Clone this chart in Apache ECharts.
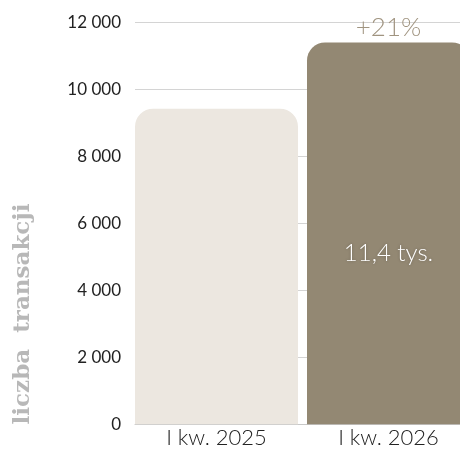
<!DOCTYPE html>
<html>
<head>
<meta charset="utf-8">
<script src="https://cdn.jsdelivr.net/npm/echarts@6/dist/echarts.min.js"></script>
<style>
  html, body { margin: 0; padding: 0; background: #fff; }
  #chart { width: 460px; height: 450px; }
</style>
</head>
<body>
<div id="chart"></div>
<script>
  // dane
  var categories = ['I kw. 2025', 'I kw. 2026'];
  var transactions = [9420, 11400];
  var barColors = ['#ECE7E0', '#938873'];
  var valueLabels = ['', '11,4 tys.'];
  var growthLabel = '+21%';
  var yMax = 12000;
  var yStep = 2000;

  var font = 'Lato, "Noto Sans", sans-serif';

  function fmt(v) {
    return String(v).replace(/\B(?=(\d{3})+(?!\d))/g, ' ');
  }

  var chart = echarts.init(document.getElementById('chart'));

  var option = {
    animation: false,
    grid: [
      { left: 135, right: 0, top: 22.3, bottom: 25.7, outerBoundsMode: 'none' },
      { left: 130.5, width: 344, top: 22.3, bottom: 25.7, outerBoundsMode: 'none' }
    ],
    xAxis: [
      {
        type: 'category', gridIndex: 0, data: categories,
        axisLine: { show: true, lineStyle: { color: '#c8c8c8', width: 1 } },
        axisTick: { show: false },
        axisLabel: { show: false }
      },
      {
        type: 'category', gridIndex: 1, data: categories,
        axisLine: { show: false },
        axisTick: { show: false },
        axisLabel: { color: '#222', fontSize: 22, fontFamily: font, fontWeight: 300, margin: 3 }
      }
    ],
    yAxis: [
      {
        type: 'value', gridIndex: 0, min: 0, max: yMax, interval: yStep,
        axisLine: { show: false },
        axisTick: { show: false },
        splitLine: { lineStyle: { color: '#d4d4d4', width: 1 } },
        axisLabel: { color: '#222', fontSize: 17, fontFamily: font, margin: 14, formatter: fmt }
      },
      {
        type: 'value', gridIndex: 1, min: 0, max: yMax, interval: yStep,
        show: false
      }
    ],
    graphic: [
      {
        type: 'text',
        x: 23, y: 314, rotation: Math.PI / 2,
        style: {
          text: 'liczba  transakcji',
          fill: '#b8b8b8',
          fontSize: 23,
          fontWeight: 'bold',
          fontFamily: '"DejaVu Serif", serif',
          textAlign: 'center',
          textVerticalAlign: 'middle'
        }
      }
    ],
    series: [
      {
        type: 'bar',
        xAxisIndex: 1, yAxisIndex: 1,
        barWidth: 163,
        z: 3,
        data: transactions.map(function (v, i) {
          return {
            value: v,
            itemStyle: { color: barColors[i], borderRadius: [18, 18, 0, 0] },
            label: {
              show: valueLabels[i] !== '',
              position: 'inside',
              offset: [0, 20],
              formatter: valueLabels[i],
              color: '#fff',
              fontSize: 24,
              fontFamily: font,
              fontWeight: 300,
              textShadowColor: 'rgba(0,0,0,0.25)',
              textShadowBlur: 3
            }
          };
        })
      },
      {
        type: 'bar',
        xAxisIndex: 1, yAxisIndex: 1,
        barWidth: 163,
        barGap: '-100%',
        z: 4,
        itemStyle: { color: 'transparent' },
        data: transactions.map(function (v, i) {
          return {
            value: v,
            label: {
              show: i === 1,
              position: 'top',
              distance: 2,
              formatter: growthLabel,
              color: '#a09480',
              fontSize: 26,
              fontFamily: font,
              fontWeight: 300
            }
          };
        })
      }
    ]
  };

  chart.setOption(option);
</script>
</body>
</html>
